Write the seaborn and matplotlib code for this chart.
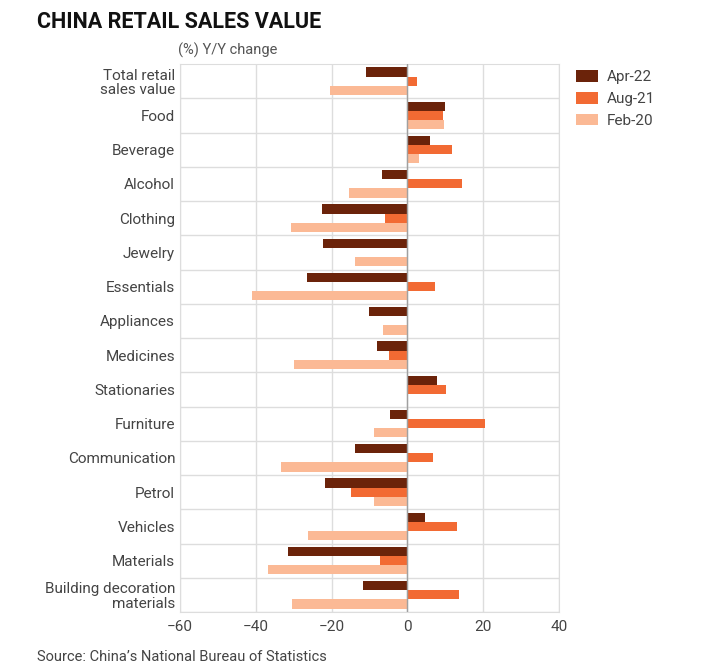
import numpy as np
import pandas as pd
import matplotlib
matplotlib.use("Agg")
import matplotlib.pyplot as plt
import seaborn as sns

categories = ["Total retail\nsales value", "Food", "Beverage", "Alcohol", "Clothing",
              "Jewelry", "Essentials", "Appliances", "Medicines", "Stationaries",
              "Furniture", "Communication", "Petrol", "Vehicles", "Materials",
              "Building decoration\nmaterials"]
series = ["Apr-22", "Aug-21", "Feb-20"]
apr22 = [-11.0, 10.0, 6.0, -6.8, -22.6, -22.2, -26.6, -10.1, -8.0, 7.9, -4.7, -13.9, -21.7, 4.7, -31.5, -11.7]
aug21 = [2.5, 9.5, 11.8, 14.4, -5.9, 0.0, 7.4, 0.1, -4.9, 10.2, 20.4, 6.7, -14.8, 13.1, -7.3, 13.5]
feb20 = [-20.3, 9.6, 3.1, -15.5, -30.7, -13.9, -40.9, -6.5, -29.8, 0.0, -8.8, -33.4, -8.8, -26.1, -36.8, -30.4]
colors = ["#6b230a", "#f26a33", "#fbb995"]

df = pd.DataFrame({
    "category": categories * 3,
    "series": np.repeat(series, len(categories)),
    "value": apr22 + aug21 + feb20,
})

sns.set_style("white")
plt.rcParams["font.family"] = ["Roboto", "DejaVu Sans"]

fig = plt.figure(figsize=(7.13, 6.67), dpi=100)
ax = fig.add_axes([180 / 713, 1 - 612 / 667, 379 / 713, 548 / 667])

sns.barplot(data=df, x="value", y="category", hue="series", palette=colors,
            orient="h", width=0.8, saturation=1, linewidth=0, ax=ax, zorder=3)

ax.set_xlim(-60, 40)
ax.set_ylim(len(categories) - 0.5, -0.5)
ax.set_xticks([-60, -40, -20, 0, 20, 40])
ax.set_yticks(np.arange(len(categories)) + 0.5, minor=True)
ax.grid(axis="x", color="#dddddd", lw=1, zorder=0)
ax.grid(axis="y", which="minor", color="#dddddd", lw=1, zorder=0)
ax.axvline(0, color="#a0a0a0", lw=1, zorder=4)
for s in ax.spines.values():
    s.set_color("#dddddd")
ax.tick_params(axis="both", which="both", length=0, labelsize=11, labelcolor="#444444")
ax.tick_params(axis="x", pad=6)
ax.set_xlabel("")
ax.set_ylabel("")
for lbl in ax.get_yticklabels():
    lbl.set_linespacing(1.05)

ax.legend(loc="upper left", bbox_to_anchor=(1.03, 1.0), frameon=False, fontsize=11,
          handlelength=1.4, handleheight=0.8, handletextpad=0.6, labelcolor="#444444",
          borderaxespad=0)

fig.text(37 / 713, 1 - 22 / 667, "CHINA RETAIL SALES VALUE", fontsize=15.5, fontweight="bold",
         va="center", ha="left", color="#111111")
fig.text(178 / 713, 1 - 50 / 667, "(%) Y/Y change", fontsize=10.5, va="center", ha="left",
         color="#555555")
fig.text(37 / 713, 1 - 657 / 667, "Source: China\u2019s National Bureau of Statistics", fontsize=10.5,
         va="center", ha="left", color="#444444")

fig.savefig("out.png", dpi=100)
